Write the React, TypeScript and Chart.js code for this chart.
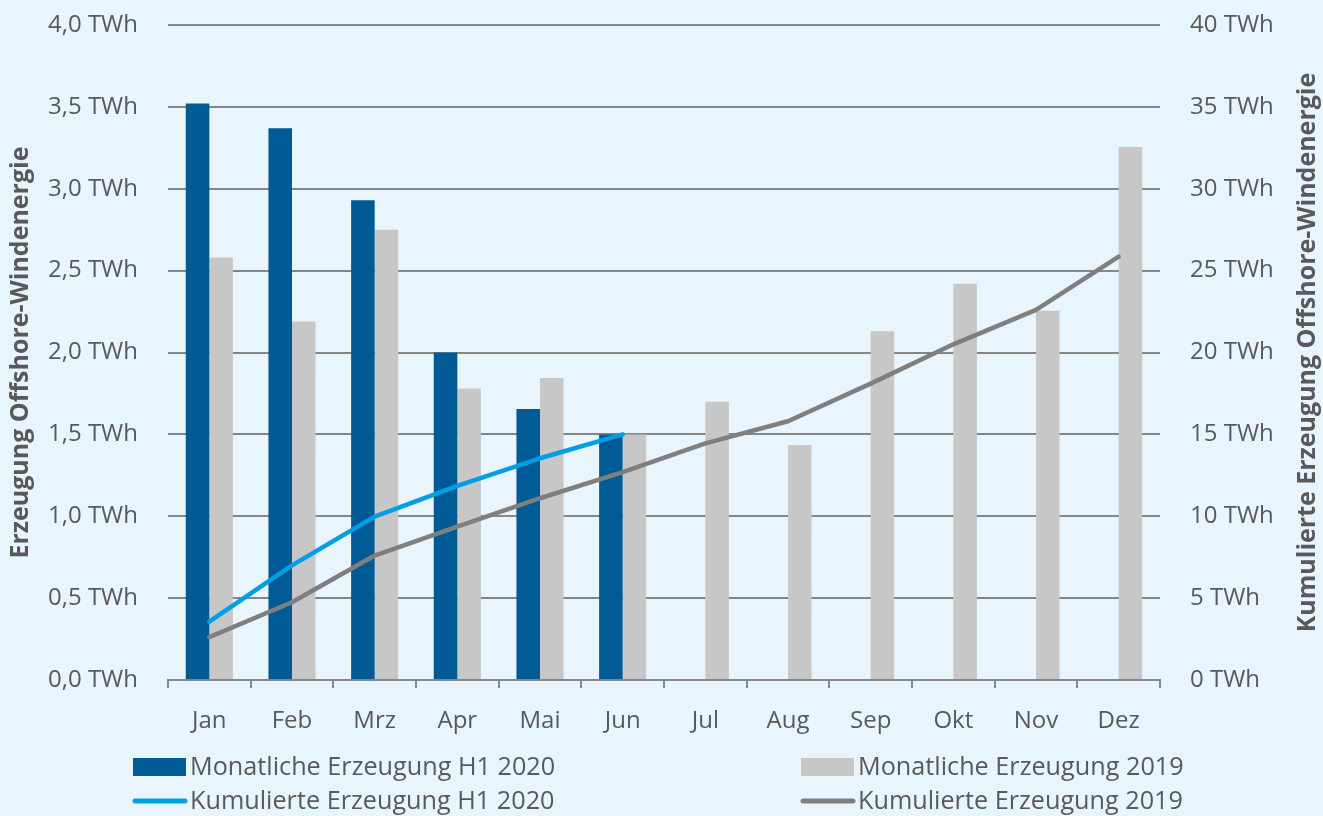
import React, { useEffect, useRef } from "react";
import { Chart, registerables } from "chart.js";

Chart.register(...registerables);

const months = ["Jan", "Feb", "Mrz", "Apr", "Mai", "Jun", "Jul", "Aug", "Sep", "Okt", "Nov", "Dez"];
const monthly2020 = [3.52, 3.37, 2.93, 2.0, 1.655, 1.5, null, null, null, null, null, null];
const monthly2019 = [2.58, 2.19, 2.75, 1.78, 1.845, 1.5, 1.7, 1.435, 2.13, 2.42, 2.255, 3.255];
const cumulative2020 = [3.56, 7.0, 9.98, 11.85, 13.54, 15.0];
const cumulative2019 = [2.62, 4.75, 7.6, 9.36, 11.1, 12.7, 14.45, 15.8, 18.1, 20.5, 22.6, 25.85];

const leftTitle = "Erzeugung Offshore-Windenergie";
const rightTitle = "Kumulierte Erzeugung Offshore-Windenergie";
const legendLabels = [
  "Monatliche Erzeugung H1 2020",
  "Monatliche Erzeugung 2019",
  "Kumulierte Erzeugung H1 2020",
  "Kumulierte Erzeugung 2019",
];

const DARK_BLUE = "#005A96";
const LIGHT_BLUE = "#009FE3";
const LIGHT_GREY = "#C7C7C7";
const DARK_GREY = "#7F7F7F";
const TEXT = "#595959";
const GRID = "#868686";
const FONT = "'Open Sans', 'Noto Sans', sans-serif";

const extrasPlugin = {
  id: "extras",
  afterDraw(chart: any) {
    const { ctx, chartArea } = chart;
    const cy = (chartArea.top + chartArea.bottom) / 2;
    ctx.save();
    ctx.fillStyle = TEXT;
    ctx.font = `bold 25px ${FONT}`;
    ctx.textAlign = "center";
    ctx.textBaseline = "middle";
    // left title
    ctx.save();
    ctx.translate(21, cy);
    ctx.rotate(-Math.PI / 2);
    ctx.fillText(leftTitle, 0, 0);
    ctx.restore();
    // right title
    ctx.save();
    ctx.translate(1308, cy);
    ctx.rotate(-Math.PI / 2);
    ctx.fillText(rightTitle, 0, 0);
    ctx.restore();

    // legend
    const cols = [133, 801];
    const rows = [767, 801];
    const items = [
      { type: "box", color: DARK_BLUE, col: 0, row: 0 },
      { type: "box", color: LIGHT_GREY, col: 1, row: 0 },
      { type: "line", color: LIGHT_BLUE, col: 0, row: 1 },
      { type: "line", color: DARK_GREY, col: 1, row: 1 },
    ];
    ctx.font = `26px ${FONT}`;
    ctx.textAlign = "left";
    items.forEach((it, i) => {
      const x = cols[it.col];
      const y = rows[it.row];
      if (it.type === "box") {
        ctx.fillStyle = it.color;
        ctx.fillRect(x, y - 9, 53, 18);
      } else {
        ctx.strokeStyle = it.color;
        ctx.lineWidth = 5;
        ctx.lineCap = "round";
        ctx.beginPath();
        ctx.moveTo(x + 2, y);
        ctx.lineTo(x + 52, y);
        ctx.stroke();
      }
      ctx.fillStyle = TEXT;
      ctx.save();
      ctx.translate(x + 57, y + 1);
      ctx.scale(0.97, 1);
      ctx.fillText(legendLabels[i], 0, 0);
      ctx.restore();
    });
    ctx.restore();
  },
};

export default function App() {
  const ref = useRef<HTMLCanvasElement | null>(null);
  useEffect(() => {
    if (!ref.current) return;
    const chart = new Chart(ref.current, {
      type: "bar",
      data: {
        labels: months,
        datasets: [
          {
            type: "line",
            label: legendLabels[2],
            data: cumulative2020,
            yAxisID: "y1",
            borderColor: LIGHT_BLUE,
            backgroundColor: LIGHT_BLUE,
            borderWidth: 4.5,
            pointRadius: 0,
            tension: 0,
            borderCapStyle: "round",
            borderJoinStyle: "round",
            order: 0,
          } as any,
          {
            type: "line",
            label: legendLabels[3],
            data: cumulative2019,
            yAxisID: "y1",
            borderColor: DARK_GREY,
            backgroundColor: DARK_GREY,
            borderWidth: 4.5,
            pointRadius: 0,
            tension: 0,
            borderCapStyle: "round",
            borderJoinStyle: "round",
            order: 1,
          } as any,
          {
            label: legendLabels[0],
            data: monthly2020,
            yAxisID: "y",
            backgroundColor: DARK_BLUE,
            categoryPercentage: 0.57,
            barPercentage: 1,
            order: 2,
          },
          {
            label: legendLabels[1],
            data: monthly2019,
            yAxisID: "y",
            backgroundColor: LIGHT_GREY,
            categoryPercentage: 0.57,
            barPercentage: 1,
            order: 2,
          },
        ],
      },
      options: {
        responsive: false,
        animation: false,
        layout: { padding: { top: 25, left: 0, right: 0, bottom: 0 } },
        plugins: {
          legend: { display: false },
          tooltip: { enabled: false },
        },
        scales: {
          x: {
            grid: {
              offset: true,
              drawOnChartArea: false,
              drawTicks: true,
              tickLength: 8,
              color: GRID,
              lineWidth: 2,
            },
            border: { display: true, color: GRID, width: 2 },
            ticks: {
              color: TEXT,
              font: { family: FONT, size: 24 },
              padding: 19,
              maxRotation: 0,
            },
            afterFit: (s: any) => {
              s.height = 136;
              s.paddingLeft = 0;
              s.paddingRight = 0;
            },
          },
          y: {
            position: "left",
            min: 0,
            max: 4,
            ticks: {
              stepSize: 0.5,
              color: TEXT,
              font: { family: FONT, size: 24 },
              padding: 30,
              callback: (v: any) => Number(v).toFixed(1).replace(".", ",") + " TWh",
            },
            grid: { color: GRID, lineWidth: 2, drawTicks: false },
            border: { display: false },
            afterFit: (s: any) => {
              s.width = 168;
              s.paddingTop = 0;
              s.paddingBottom = 0;
            },
          },
          y1: {
            position: "right",
            min: 0,
            max: 40,
            ticks: {
              stepSize: 5,
              color: TEXT,
              font: { family: FONT, size: 24 },
              padding: 30,
              callback: (v: any) => `${v} TWh`,
            },
            grid: { display: false, drawOnChartArea: false, drawTicks: false },
            border: { display: false },
            afterFit: (s: any) => {
              s.width = 163;
              s.paddingTop = 0;
              s.paddingBottom = 0;
            },
          },
        },
      },
      plugins: [extrasPlugin],
    });
    return () => chart.destroy();
  }, []);

  return (
    <div
      style={{
        position: "fixed",
        left: 0,
        top: 0,
        width: 1323,
        height: 816,
        background: "#E9F5FD",
      }}
    >
      <canvas ref={ref} width={1323} height={816} style={{ display: "block" }} />
    </div>
  );
}
